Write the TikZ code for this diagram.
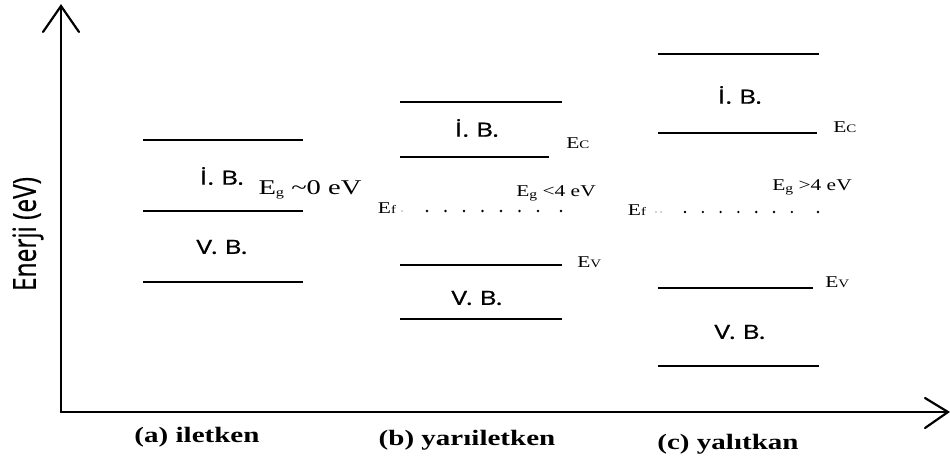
\documentclass[tikz,border=0pt]{standalone}
\usepackage{fontspec}
\setmainfont{Liberation Serif}
\newfontfamily\sansf[FakeBold=0.7]{Open Sans}
\newcommand{\sbs}[1]{{\fontsize{11.5}{11.5}\selectfont #1}}
\newcommand{\sbg}{\raisebox{-2pt}{\fontsize{12}{12}\selectfont g}}
\tikzset{
  band/.style={line width=2pt, line cap=butt},
  axis/.style={line width=2.2pt, line cap=round, line join=miter},
  bandlabel/.style={font=\sansf\fontsize{19.5}{19.5}\selectfont, xscale=1.35, inner sep=0pt},
  elab/.style={font=\fontsize{16.5}{16.5}\selectfont, xscale=1.3, inner sep=0pt},
  biglab/.style={font=\fontsize{21}{21}\selectfont, xscale=1.36, inner sep=0pt},
  caplab/.style={font=\bfseries\fontsize{22}{22}\selectfont, xscale=1.32, inner sep=0pt},
  fdot/.style={fill=black, draw=none},
  fdotfaint/.style={fill=black!35, draw=none}
}
\begin{document}
\begin{tikzpicture}[x=1pt,y=-1pt]
\useasboundingbox (0,0) rectangle (950,469);
% axes
\coordinate (O) at (61,412);
\coordinate (ytip) at (61,6);
\coordinate (xtip) at (948,412);
\draw[axis] (O) -- (ytip);
\draw[axis] (O) -- (xtip);
\draw[axis] (43,32) -- (ytip) -- (79,32);
\draw[axis] (925,398) -- (xtip) -- (925,428);
\node[font=\sansf\fontsize{24.5}{24.5}\selectfont, rotate=90, yscale=1.3, inner sep=0pt] (ylab) at (28,234) {Enerji (eV)};

% panel a
\draw[band] (143,140) -- (303,140);
\draw[band] (143,211) -- (303,211);
\draw[band] (143,282) -- (303,282);
\node[bandlabel] (aib) at (222,176) {İ. B.};
\node[bandlabel] (avb) at (222,247) {V. B.};
\node[biglab] (aeg) at (310,190) {E\sbg\ \textasciitilde0 eV};
\node[caplab] (acap) at (197,437) {(a) iletken};

% panel b
\draw[band] (400,102) -- (562,102);
\draw[band] (400,157) -- (549,157);
\draw[band] (400,265) -- (562,265);
\draw[band] (400,319) -- (562,319);
\node[bandlabel] (bib) at (477,128) {İ. B.};
\node[bandlabel] (bvb) at (477,298) {V. B.};
\node[elab, anchor=west] (bec) at (566,143) {E\sbs{C}};
\node[elab] (beg) at (556,193) {E\sbg\ <4 eV};
\node[elab] (bef) at (387,208) {E\sbs{f}};
\node[elab, anchor=west] (bev) at (577,262) {E\sbs{V}};
\node[caplab] (bcap) at (467,440) {(b) yarıiletken};
\fill[fdotfaint] (402,211) circle (0.9);
\foreach \i in {0,...,6} { \fill[fdot] ({427+18.5*\i},211) circle (1.3); }
\fill[fdot] (561,211) circle (1.3);

% panel c
\draw[band] (658,54) -- (819,54);
\draw[band] (658,133) -- (817,133);
\draw[band] (658,288) -- (813,288);
\draw[band] (658,366) -- (819,366);
\node[bandlabel] (cib) at (740,95) {İ. B.};
\node[bandlabel] (cvb) at (740,332) {V. B.};
\node[elab, anchor=west] (cec) at (833,127) {E\sbs{C}};
\node[elab] (ceg) at (812,187) {E\sbg\ >4 eV};
\node[elab] (cef) at (637,210) {E\sbs{f}};
\node[elab, anchor=west] (cev) at (825,282) {E\sbs{V}};
\node[caplab] (ccap) at (728,444) {(c) yalıtkan};
\fill[fdotfaint] (656,212) circle (0.9);
\fill[fdotfaint] (661,212) circle (0.9);
\foreach \i in {0,...,6} { \fill[fdot] ({685+17.8*\i},212) circle (1.3); }
\fill[fdot] (818,212) circle (1.3);
\end{tikzpicture}
\end{document}
